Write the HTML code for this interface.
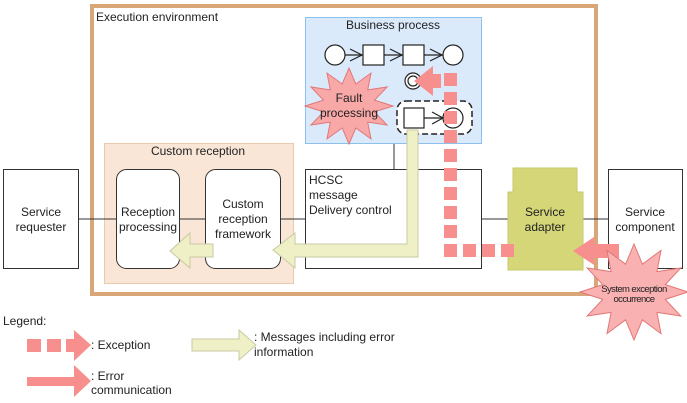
<!DOCTYPE html>
<html><head><meta charset="utf-8"><style>
html,body{margin:0;padding:0;background:#fff}
svg{display:block}
text{font-family:"Liberation Sans",Arial,sans-serif;font-size:12px;fill:#222}
</style></head><body>
<svg width="687" height="403" viewBox="0 0 687 403" xmlns="http://www.w3.org/2000/svg">
<!-- execution environment -->
<rect x="92" y="6" width="504" height="288" fill="#fff" stroke="#d9a67a" stroke-width="4"/>
<text x="96" y="21">Execution environment</text>

<!-- custom reception -->
<rect x="104.5" y="143.5" width="189" height="140" fill="#f9e6d6" stroke="#ebc9aa"/>
<text x="198" y="155" text-anchor="middle">Custom reception</text>

<!-- connectors -->
<g stroke="#333" stroke-width="1">
<line x1="79" y1="219" x2="117" y2="219"/>
<line x1="180" y1="219" x2="205" y2="219"/>
<line x1="280" y1="219" x2="306" y2="219"/>
<line x1="482" y1="219" x2="514" y2="219"/>
<line x1="583" y1="219" x2="609" y2="219"/>
<line x1="394" y1="143" x2="394" y2="169"/>
</g>

<rect x="3.5" y="169.5" width="75" height="99" fill="#fff" stroke="#333"/>
<text x="41" y="216" text-anchor="middle">Service</text>
<text x="41" y="231" text-anchor="middle">requester</text>

<rect x="116.5" y="169.5" width="63" height="99" rx="10" fill="#fff" stroke="#333"/>
<text x="148" y="216" text-anchor="middle">Reception</text>
<text x="148" y="231" text-anchor="middle">processing</text>

<rect x="205.5" y="169.5" width="75" height="99" rx="10" fill="#fff" stroke="#333"/>
<text x="243" y="208" text-anchor="middle">Custom</text>
<text x="243" y="223" text-anchor="middle">reception</text>
<text x="243" y="238" text-anchor="middle">framework</text>

<rect x="305.5" y="169.5" width="176" height="99" fill="#fff" stroke="#333"/>
<text x="309" y="184">HCSC</text>
<text x="309" y="199">message</text>
<text x="309" y="214">Delivery control</text>

<!-- business process -->
<rect x="305.5" y="17.5" width="176" height="126" fill="#dbeafb" stroke="#8cc0ee"/>
<text x="393" y="29" text-anchor="middle">Business process</text>
<g stroke="#222" fill="#fff" stroke-width="1.2">
<line x1="345" y1="55" x2="443" y2="55"/>
<circle cx="335" cy="55" r="10"/>
<rect x="363" y="45" width="21" height="20"/>
<rect x="403" y="45" width="21" height="20"/>
<circle cx="453" cy="55" r="10"/>
<polyline points="350,49 362,55 350,61" fill="none"/>
<polyline points="390,49 402,55 390,61" fill="none"/>
<polyline points="430,49 442,55 430,61" fill="none"/>
<circle cx="413" cy="81" r="8"/>
<circle cx="413" cy="81" r="5"/>
<rect x="397" y="101" width="75" height="33" rx="9" stroke-dasharray="6,3" stroke-width="1.5"/>
<line x1="424" y1="118" x2="443" y2="118"/>
<rect x="404" y="108" width="20" height="20"/>
<circle cx="453" cy="118" r="10"/>
<polyline points="432,112 443,118 432,124" fill="none"/>
</g>
<polygon fill="#f9a8a8" stroke="#e07878" points="393,106 374.5,111.9 387.1,125 367.7,122.1 371,138.9 355.8,128 349,144 342.2,128 327,138.9 330.3,122.1 310.9,125 323.5,111.9 305,106 323.5,100.1 310.9,87 330.3,89.9 327,73.1 342.2,84 349,68 355.8,84 371,73.1 367.7,89.9 387.1,87 374.5,100.1"/>
<text x="349" y="102" text-anchor="middle">Fault</text>
<text x="349" y="117" text-anchor="middle">processing</text>

<!-- yellow arrows -->
<g fill="#eff0c5" stroke="#c9c9a5" stroke-width="1">
<polygon points="407,130 418,130 418,257 295,257 295,268 273,250 295,233 295,244 407,244"/>
<polygon points="213,244 213,257 190,257 190,268 170,251 190,233 190,244"/>
</g>

<!-- service adapter -->
<polygon points="513,168 577,168 577,192 583,192 583,270 508,270 508,192 513,192" fill="#d4d678" stroke="#c7c96a"/>
<text x="545" y="216" text-anchor="middle">Service</text>
<text x="545" y="231" text-anchor="middle">adapter</text>

<rect x="608.5" y="169.5" width="74" height="99" fill="#fff" stroke="#333"/>
<text x="645" y="216" text-anchor="middle">Service</text>
<text x="645" y="231" text-anchor="middle">component</text>

<!-- exception dashed -->
<g fill="#f78f8f">
<line x1="450.5" y1="73" x2="450.5" y2="257" stroke="#f78f8f" stroke-width="13" stroke-dasharray="13,6"/>
<line x1="463" y1="250.5" x2="514" y2="250.5" stroke="#f78f8f" stroke-width="13" stroke-dasharray="13,6"/>
<polygon points="414,81 433,66 433,96"/>
<rect x="433" y="74" width="8" height="14"/>
</g>
<!-- error communication -->
<polygon points="619,244 594,244 594,237 573,251 594,265 594,258 619,258" fill="#f78f8f"/>

<polygon fill="#f9b1b1" stroke="#e07878" points="688,292 665.3,299.4 680.8,316 656.9,312.4 661,333.6 642.4,319.8 634,340 625.6,319.8 607,333.6 611.1,312.4 587.2,316 602.7,299.4 580,292 602.7,284.6 587.2,268 611.1,271.6 607,250.4 625.6,264.2 634,244 642.4,264.2 661,250.4 656.9,271.6 680.8,268 665.3,284.6"/>
<text x="634" y="292" text-anchor="middle" style="font-size:9.5px;letter-spacing:-0.6px">System exception</text>
<text x="634" y="302" text-anchor="middle" style="font-size:9.5px;letter-spacing:-0.6px">occurrence</text>

<!-- legend -->
<text x="3" y="325">Legend:</text>
<g fill="#f78f8f">
<rect x="27" y="339" width="14" height="13"/>
<rect x="47" y="339" width="14" height="13"/>
<rect x="66" y="339" width="8" height="13"/>
<polygon points="74,330 91,345 74,361"/>
<polygon points="27,377 74,377 74,365 91,381 74,397 74,386 27,386"/>
</g>
<text x="91" y="349">: Exception</text>
<text x="91" y="380">: Error</text>
<text x="91" y="394">communication</text>
<polygon points="192,339 239,339 239,330 256,345 239,360 239,351 192,351" fill="#eff0c5" stroke="#c9c9a5"/>
<text x="254" y="341">: Messages including error</text>
<text x="254" y="356">information</text>
</svg>
</body></html>
